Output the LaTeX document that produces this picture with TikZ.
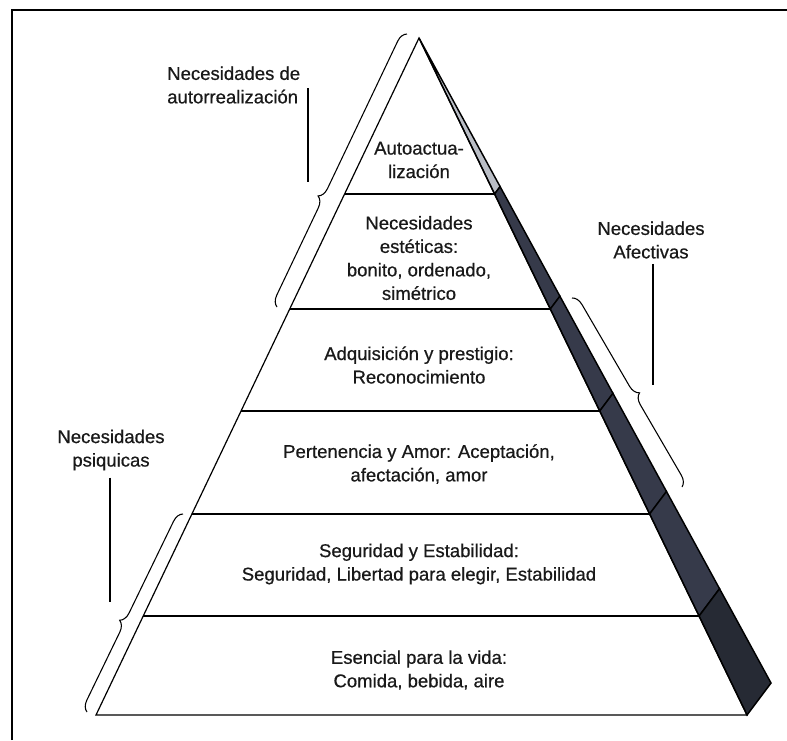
\documentclass[tikz,border=0pt]{standalone}
\usepackage{fontspec}
\setmainfont[FakeBold=0.6]{Liberation Sans}
\usetikzlibrary{calc,decorations.pathreplacing}

\definecolor{sidelight}{HTML}{BABEC6}
\definecolor{sidedark}{HTML}{363A4A}
\definecolor{sidedeep}{HTML}{262A34}

\begin{document}
\begin{tikzpicture}[
    x=0.75pt, y=-0.75pt,
    every node/.style={align=center, inner sep=0pt, text=black!90,
        font=\fontsize{13.9}{17.6}\selectfont},
    edge/.style={line width=0.9pt},
    side/.style={line width=1.1pt, draw=black},
    curly/.style={line width=0.8pt, decorate,
        decoration={brace, amplitude=8pt, aspect=#1}},
    curly/.default=0.5,
    tick/.style={line width=0.8pt}
]
\useasboundingbox (0,0) rectangle (787,740);
\draw[line width=1pt] (12,740) -- (12,10) -- (787,10);

\coordinate (apex) at (419,38);
\coordinate (bl) at (96,715);
\coordinate (br) at (747,715);
\coordinate (bo) at (771,683);

% side face
\foreach \a/\b/\c in {0/0.2304/sidelight, 0.2304/0.4003/sidedark,
    0.4003/0.5510/sidedark, 0.5510/0.7031/sidedark,
    0.7031/0.8538/sidedark, 0.8538/1/sidedeep}
  \filldraw[side, fill=\c] ($(apex)!\a!(br)$) -- ($(apex)!\b!(br)$)
    -- ($(apex)!\b!(bo)$) -- ($(apex)!\a!(bo)$) -- cycle;

% pyramid
\draw[edge] (apex) -- (bl) -- (br) -- cycle;
\foreach \t in {0.2304,0.4003,0.5510,0.7031,0.8538}
  \draw[edge] ($(apex)!\t!(bl)$) -- ($(apex)!\t!(br)$);

\node (autoact) at (419,160) {Autoactua-\\lización};
\node (estetic) at (419,258) {Necesidades\\estéticas:\\bonito, ordenado,\\simétrico};
\node (prestig) at (419,365) {Adquisición y prestigio:\\Reconocimiento};
\node (amor) at (419,464) {Pertenencia y Amor: Aceptación,\\afectación, amor};
\node (segur) at (419,564) {Seguridad y Estabilidad:\\Seguridad, Libertad para elegir, Estabilidad};
\node (vida) at (419,670) {Esencial para la vida:\\Comida, bebida, aire};

% labels
\node[anchor=west, align=left] (selfreal) at (167,85) {Necesidades de\\autorrealización};
\node (afect) at (651,240) {Necesidades\\Afectivas};
\node (psiq) at (111,450) {Necesidades\\psiquicas};

\draw[curly=0.39] (277,307) -- (407,34);
\draw[curly=0.53] (572,298) -- (682,487);
\draw[curly=0.44] (87,712) -- (183,514);

\coordinate (tipA) at (308,182);
\coordinate (tipB) at (653,385);
\coordinate (tipC) at (110,602);
\draw[tick] (tipA |- selfreal.east) ++(0,3) -- (tipA);
\draw[tick] (tipB |- afect.south) ++(0,5) -- (tipB);
\draw[tick] (tipC |- psiq.south) ++(0,7) -- (tipC);
\end{tikzpicture}
\end{document}
